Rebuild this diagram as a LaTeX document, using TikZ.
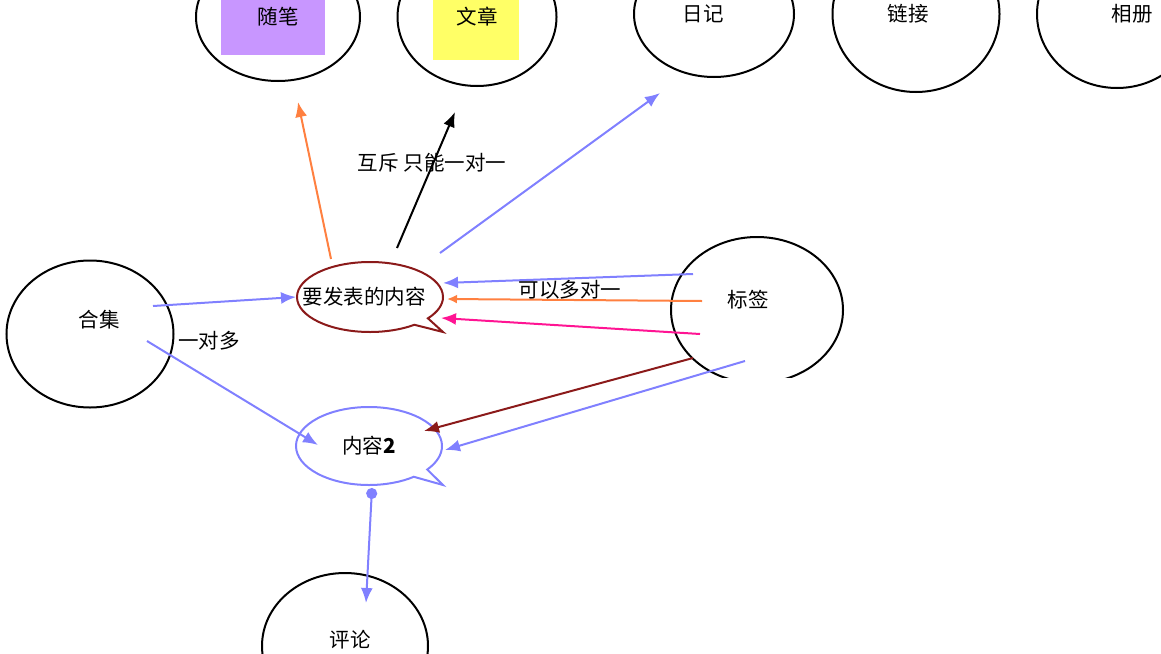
\documentclass[tikz,border=0pt]{standalone}
\usepackage{fontspec}
\newfontfamily\cjk{Noto Sans CJK SC}
\usetikzlibrary{shapes.geometric,shapes.callouts,arrows.meta}
\definecolor{lblue}{RGB}{128,128,255}
\definecolor{lorange}{RGB}{255,128,64}
\definecolor{lpink}{RGB}{255,20,147}
\definecolor{dred}{RGB}{139,26,26}
\definecolor{lpurple}{RGB}{200,150,255}
\definecolor{lyellow}{RGB}{255,255,102}

\begin{document}
\begin{tikzpicture}[x=1pt, y=-1pt,
        font=\cjk\fontsize{20.5}{23}\selectfont,
        bub/.style={draw, ellipse, line width=2pt, inner sep=0, minimum width=#1},
        msg/.style={draw=#1, ellipse callout, line width=2pt, inner sep=0,
            minimum width=146pt, minimum height=70pt},
        con/.style={draw=#1, line width=2pt, -{Latex[length=15pt, width=12pt]}}
    ]
        \useasboundingbox (0,0) rectangle (1161,653);
        \fill[lpurple] (221,-5) rectangle (325,55);
        \fill[lyellow] (433,-5) rectangle (519,60);
        \node[bub=164pt, minimum height=128pt] (suibi) at (278,17) {随笔};
        \node[bub=159pt, minimum height=138pt] (wenzhang) at (477,17) {文章};
        \node[bub=160pt, minimum height=126pt, label={[xshift=-11pt]center:日记}] (riji) at (714,14) {};
        \node[bub=167pt, minimum height=156pt, label={[xshift=-8pt]center:链接}] (lianjie) at (916,14) {};
        \node[bub=160pt, minimum height=148pt, label={[xshift=15pt]center:相册}] (xiangce) at (1117,14) {};
        \node[bub=167pt, minimum height=147pt, label={[xshift=9pt, yshift=14pt]center:合集}] (heji) at (90,334) {};
        \node[bub=166pt, minimum height=146pt, label={[xshift=5pt, yshift=6pt]center:评论}] (pinglun) at (345,646) {};
        \begin{scope}
          \clip (600,200) rectangle (900,377);
          \node[bub=172pt, minimum height=146pt, label={[xshift=-9pt, yshift=10pt]center:标签}] (biaoqian) at (757,310) {};
        \end{scope}
        \node[msg=dred, callout absolute pointer={(443,332)}, label={[xshift=-6pt]center:要发表的内容}] (post) at (370,297) {};
        \node[msg=lblue, minimum height=78pt, callout absolute pointer={(443,485)}, label={center:内容\textbf{2}}] (neirong) at (369,446) {};

        \draw[con=lorange] ([shift={(-39,-38)}]post.center) -- ([shift={(20,85)}]suibi.center);
        \draw[con=black] ([shift={(27,-49)}]post.center) -- ([shift={(-22,95)}]wenzhang.center);
        \draw[con=lblue] ([shift={(70,-44)}]post.center) -- ([shift={(-54,79)}]riji.center);
        \draw[con=lblue] ([shift={(63,-28)}]heji.center) -- (post.west);
        \draw[con=lblue] ([shift={(57,7)}]heji.center) -- ([shift={(-51,-1)}]neirong.center);
        \draw[con=lblue] ([shift={(-64,-36)}]biaoqian.center) -- ([shift={(73,-14)}]post.center);
        \draw[con=lorange, -{Latex[length=10pt, width=9pt]}] ([shift={(-55,-9)}]biaoqian.center) -- ([shift={(77,2)}]post.center);
        \draw[con=lpink] ([shift={(-57,24)}]biaoqian.center) -- ([shift={(71,21)}]post.center);
        \draw[con=dred] ([shift={(-64,48)}]biaoqian.center) -- ([shift={(55,-15)}]neirong.center);
        \draw[con=lblue] ([shift={(-12,51)}]biaoqian.center) -- ([shift={(76,4)}]neirong.center);
        \draw[con=lblue, {Circle[length=11pt]}-{Latex[length=15pt, width=12pt]}] ([shift={(3,42)}]neirong.center) -- ([shift={(21,-43)}]pinglun.center);

        \node (huchi) at (432,163) {互斥 只能一对一};
        \node (duoduiyi) at (570,290) {可以多对一};
        \node (yiduiduo) at (209,341) {一对多};
    \end{tikzpicture}
\end{document}
